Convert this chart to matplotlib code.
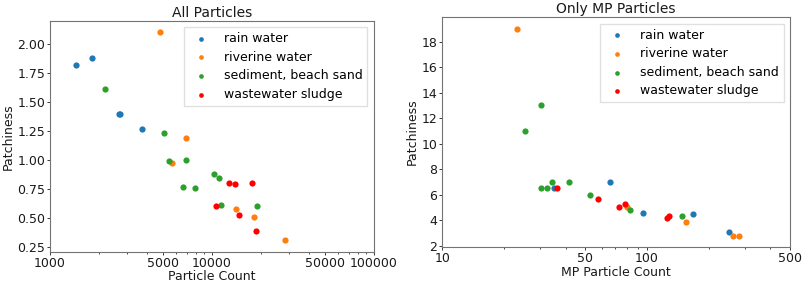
import matplotlib
matplotlib.use("Agg")
import matplotlib.pyplot as plt
from matplotlib.ticker import NullFormatter

# ---- data: All Particles ----
all_rain_x = [1440, 1815, 2660, 2720, 3700]
all_rain_y = [1.82, 1.88, 1.40, 1.40, 1.27]
all_river_x = [4750, 6900, 5650, 14030, 18200, 28500]
all_river_y = [2.11, 1.19, 0.97, 0.58, 0.51, 0.31]
all_sed_x = [2190, 5090, 5430, 6970, 6630, 7910, 10300, 11130, 11330, 18900]
all_sed_y = [1.61, 1.23, 0.99, 1.00, 0.77, 0.76, 0.88, 0.84, 0.61, 0.60]
all_ww_x = [10600, 12750, 13840, 17800, 14620, 18800]
all_ww_y = [0.60, 0.80, 0.79, 0.80, 0.52, 0.39]

# ---- data: Only MP Particles ----
mp_rain_x = [35.3, 65.8, 96.0, 168, 251]
mp_rain_y = [6.5, 7.0, 4.6, 4.45, 3.1]
mp_river_x = [23.2, 79.5, 154.5, 262, 282]
mp_river_y = [19.0, 5.0, 3.88, 2.78, 2.73]
mp_sed_x = [25.3, 30.2, 30.2, 32.4, 34.4, 41.5, 52.7, 82.2, 148.8]
mp_sed_y = [11.0, 13.0, 6.5, 6.5, 7.0, 7.0, 6.0, 4.76, 4.3]
mp_ww_x = [36.4, 57.9, 73.4, 78.3, 124.6, 128.4]
mp_ww_y = [6.5, 5.67, 5.0, 5.28, 4.14, 4.35]

labels = ["rain water", "riverine water", "sediment, beach sand", "wastewater sludge"]
colors = ["#1f77b4", "#ff7f0e", "#2ca02c", "#ff0000"]

all_xticks = [1000, 5000, 10000, 50000, 100000]
all_yticks = [0.25, 0.50, 0.75, 1.00, 1.25, 1.50, 1.75, 2.00]
mp_xticks = [10, 50, 100, 500]
mp_yticks = [2, 4, 6, 8, 10, 12, 14, 16, 18]

fs = 9
plt.rcParams['font.family'] = 'DejaVu Sans'
fig = plt.figure(figsize=(8.03, 2.83), dpi=100)
ax1 = fig.add_axes([50/803, (283-251.7)/283, (373.7-50)/803, (251.7-20.7)/283])
ax2 = fig.add_axes([442.3/803, (283-246.7)/283, (790-442.3)/803, (246.7-17.3)/283])

def draw(ax, xs, ys):
    for x, y, c, l in zip(xs, ys, colors, labels):
        ax.scatter(x, y, s=20, color=c, label=l, linewidths=0, zorder=3)

draw(ax1, [all_rain_x, all_river_x, all_sed_x, all_ww_x],
     [all_rain_y, all_river_y, all_sed_y, all_ww_y])
draw(ax2, [mp_rain_x, mp_river_x, mp_sed_x, mp_ww_x],
     [mp_rain_y, mp_river_y, mp_sed_y, mp_ww_y])

for ax in (ax1, ax2):
    ax.set_xscale('log')
    ax.xaxis.set_minor_formatter(NullFormatter())
    ax.tick_params(labelsize=fs, length=2.5, width=0.6, pad=1, colors='0.1')
    ax.tick_params(which='minor', length=1.6, width=0.5)
    for sp in ax.spines.values():
        sp.set_color('0.45')
        sp.set_linewidth(0.8)
    ax.set_ylabel("Patchiness", fontsize=fs, labelpad=2, color='0.1')
    ax.legend(loc='upper right', fontsize=fs, markerscale=0.75,
              labelspacing=0.45, edgecolor='0.85', fancybox=False)

ax1.set_xlim(1000, 100000)
ax1.set_xticks(all_xticks)
ax1.set_xticklabels([str(t) for t in all_xticks])
ax1.set_ylim(0.207, 2.204)
ax1.set_yticks(all_yticks)
ax1.set_yticklabels([f"{t:.2f}" for t in all_yticks])
ax1.set_xlabel("Particle Count", fontsize=fs, labelpad=0, color='0.1')
ax1.set_title("All Particles", fontsize=10, pad=3, color='0.1')

ax2.set_xlim(10, 500)
ax2.set_xticks(mp_xticks)
ax2.set_xticklabels([str(t) for t in mp_xticks])
ax2.set_ylim(1.92, 19.9)
ax2.set_yticks(mp_yticks)
ax2.set_yticklabels([str(t) for t in mp_yticks])
ax2.set_xlabel("MP Particle Count", fontsize=fs, labelpad=1, color='0.1')
ax2.set_title("Only MP Particles", fontsize=10, pad=3, color='0.1')

fig.savefig("out.png", dpi=100)
